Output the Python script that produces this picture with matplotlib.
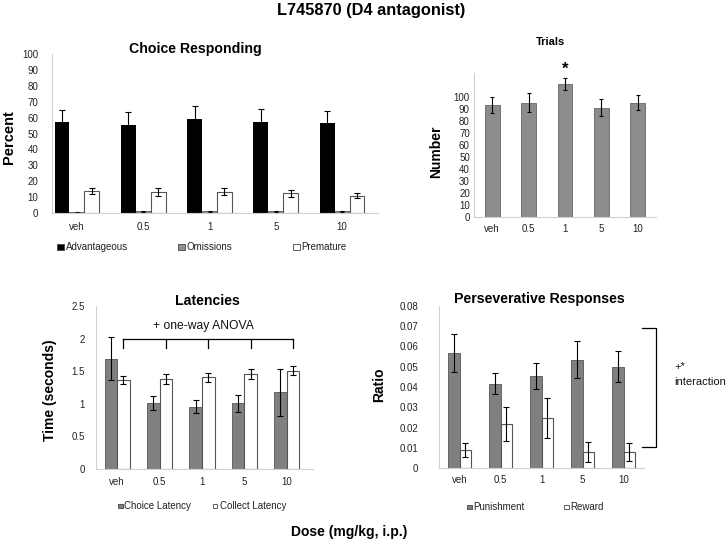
import matplotlib
matplotlib.use('Agg')
import matplotlib.pyplot as plt
from matplotlib.patches import Rectangle
import numpy as np

plt.rcParams['font.family'] = ['Liberation Sans', 'DejaVu Sans']

# 数据
doses = ['veh', '0.5', '1', '5', '10']

# Choice Responding
advantageous = [57.0, 55.3, 59.1, 57.0, 56.4]
advantageous_err = [7.8, 8.2, 8.2, 8.4, 8.0]
omissions = [0.6, 1.2, 1.2, 1.2, 1.2]
omissions_err = [0.3, 0.3, 0.3, 0.3, 0.3]
premature = [14.0, 13.4, 13.4, 12.4, 10.9]
premature_err = [2.0, 2.5, 2.3, 2.1, 1.5]

# Trials
trials = [93.3, 95.3, 111.0, 91.0, 95.3]
trials_err = [7.0, 8.0, 5.0, 7.0, 6.0]

# Latencies
choice_lat = [1.69, 1.01, 0.955, 1.01, 1.176]
choice_lat_err = [0.33, 0.11, 0.10, 0.13, 0.36]
collect_lat = [1.36, 1.38, 1.405, 1.457, 1.508]
collect_lat_err = [0.06, 0.07, 0.07, 0.08, 0.07]

# Perseverative Responses
punishment = [0.057, 0.0417, 0.0455, 0.0534, 0.0501]
punishment_err = [0.0094, 0.0053, 0.0063, 0.0092, 0.0077]
reward = [0.0089, 0.0218, 0.0248, 0.0079, 0.008]
reward_err = [0.0035, 0.0085, 0.0098, 0.005, 0.0043]

W, H = 728, 549
fig = plt.figure(figsize=(W / 100, H / 100), dpi=100)


def box(l, t, r, b):
    return [l / W, 1 - b / H, (r - l) / W, (b - t) / H]


def ftext(x, y, s, **kw):
    fig.text(x / W, 1 - y / H, s, **kw)


def legend_item(x, y, size, color, label):
    fig.patches.append(Rectangle((x / W, 1 - (y + size / 2) / H), size / W, size / H,
                                 transform=fig.transFigure, facecolor=color,
                                 edgecolor='#444444', linewidth=0.6))
    ftext(x + size + 2, y, label, fontsize=7, va='center', ha='left', color='#222222')


def style(ax, ypad, xpad):
    for s in ['top', 'right']:
        ax.spines[s].set_visible(False)
    for s in ['left', 'bottom']:
        ax.spines[s].set_color('#d0d0d0')
        ax.spines[s].set_linewidth(0.8)
    ax.tick_params(axis='y', length=0, pad=ypad, labelsize=7, colors='#222222')
    ax.tick_params(axis='x', length=0, pad=xpad, labelsize=7, colors='#222222')


x = np.arange(len(doses))
ebk = dict(ecolor='black', elinewidth=0.8, capthick=0.8)

# 1. Choice Responding
ax1 = fig.add_axes(box(52, 54, 378, 213))
w = 0.226
ax1.bar(x - w, advantageous, w, color='black', yerr=advantageous_err, capsize=2.5, error_kw=ebk)
ax1.bar(x, omissions, w, color='#909090', edgecolor='#555555', linewidth=0.6,
        yerr=omissions_err, capsize=1.5, error_kw=ebk)
ax1.bar(x + w, premature, w, color='white', edgecolor='#555555', linewidth=0.8,
        yerr=premature_err, capsize=2.5, error_kw=ebk)
ax1.set_xlim(-0.377, 4.543)
ax1.set_ylim(0, 100)
ax1.set_yticks(range(0, 101, 10))
ax1.set_xticks(x)
ax1.set_xticklabels(doses)
style(ax1, 10, 6.5)
ftext(195, 49, 'Choice Responding', fontsize=10.2, fontweight='bold', ha='center', va='center')
ftext(9, 137, 'Percent', fontsize=10.5, fontweight='bold', ha='center', va='center', rotation=90)
legend_item(57, 247, 6.5, 'black', 'Advantageous')
legend_item(178, 247, 6.5, '#909090', 'Omissions')
legend_item(293, 247, 6.5, 'white', 'Premature')

# 2. Trials
ax2 = fig.add_axes(box(474, 73, 656, 217))
ax2.bar(x, trials, 0.41, color='#8c8c8c', edgecolor='#666666', linewidth=0.6,
        yerr=trials_err, capsize=1.5, error_kw=ebk)
ax2.set_xlim(-0.5, 4.5)
ax2.set_ylim(0, 120)
ax2.set_yticks(range(0, 101, 10))
ax2.set_xticks(x)
ax2.set_xticklabels(doses)
style(ax2, 3, 5)
ax2.text(2, 123, '*', fontsize=12, fontweight='bold', ha='center', va='center')
ftext(551, 42, 'Trials', fontsize=8, fontweight='bold', ha='center', va='center')
ftext(436, 152, 'Number', fontsize=10, fontweight='bold', ha='center', va='center', rotation=90)

# 3. Latencies
ax3 = fig.add_axes(box(96, 306, 313, 469))
w = 0.296
ax3.bar(x - w / 2, choice_lat, w, color='#808080', edgecolor='#555555', linewidth=0.6,
        yerr=choice_lat_err, capsize=2.2, error_kw=ebk)
ax3.bar(x + w / 2, collect_lat, w, color='white', edgecolor='#555555', linewidth=0.8,
        yerr=collect_lat_err, capsize=2.2, error_kw=ebk)
ax3.set_xlim(-0.5, 4.62)
ax3.set_ylim(0, 2.5)
ax3.set_yticks([0, 0.5, 1, 1.5, 2, 2.5])
ax3.set_yticklabels(['0', '0.5', '1', '1.5', '2', '2.5'])
ax3.set_xticks(x)
ax3.set_xticklabels(doses)
style(ax3, 8, 6)
# one-way ANOVA 括号
ax3.plot([x[0] + w / 2, x[-1] + w / 2], [2.0, 2.0], color='black', lw=0.9, clip_on=False)
for xi in x:
    ax3.plot([xi + w / 2, xi + w / 2], [2.0, 1.86], color='black', lw=0.9, clip_on=False)
ftext(203, 326, '+ one-way ANOVA', fontsize=8.7, ha='center', va='center', color='#111111')
ftext(207, 301, 'Latencies', fontsize=10.2, fontweight='bold', ha='center', va='center')
ftext(50, 390, 'Time (seconds)', fontsize=10, fontweight='bold', ha='center', va='center', rotation=90)
legend_item(118, 506, 4.5, '#808080', 'Choice Latency')
legend_item(213, 506, 4.5, 'white', 'Collect Latency')

# 4. Perseverative Responses
ax4 = fig.add_axes(box(439, 306, 644, 468))
w = 0.28
ax4.bar(x - w / 2, punishment, w, color='#808080', edgecolor='#555555', linewidth=0.6,
        yerr=punishment_err, capsize=2.2, error_kw=ebk)
ax4.bar(x + w / 2, reward, w, color='white', edgecolor='#555555', linewidth=0.8,
        yerr=reward_err, capsize=2.2, error_kw=ebk)
ax4.set_xlim(-0.5, 4.5)
ax4.set_ylim(0, 0.08)
ax4.set_yticks(np.arange(0, 0.081, 0.01))
ax4.set_yticklabels(['0', '0.01', '0.02', '0.03', '0.04', '0.05', '0.06', '0.07', '0.08'])
ax4.set_xticks(x)
ax4.set_xticklabels(doses)
style(ax4, 15, 5)
# interaction 括号
ax4.plot([4.45, 4.79, 4.79, 4.45], [0.069, 0.069, 0.0103, 0.0103], color='black', lw=0.9,
         clip_on=False)
ftext(674, 367, '+*', fontsize=8, ha='left', va='center', color='#111111')
ftext(674, 382, 'interaction', fontsize=8, ha='left', va='center', color='#111111')
ftext(539, 299, 'Perseverative Responses', fontsize=10.2, fontweight='bold', ha='center', va='center')
ftext(379, 385, 'Ratio', fontsize=10, fontweight='bold', ha='center', va='center', rotation=90)
legend_item(467, 507, 4.5, '#808080', 'Punishment')
legend_item(564, 507, 4.5, 'white', 'Reward')

# 总标题和 x 轴标签
ftext(371, 10, 'L745870 (D4 antagonist)', fontsize=11.8, fontweight='bold', ha='center', va='center')
ftext(349, 532, 'Dose (mg/kg, i.p.)', fontsize=10, fontweight='bold', ha='center', va='center')

fig.savefig('out.png', dpi=100)
